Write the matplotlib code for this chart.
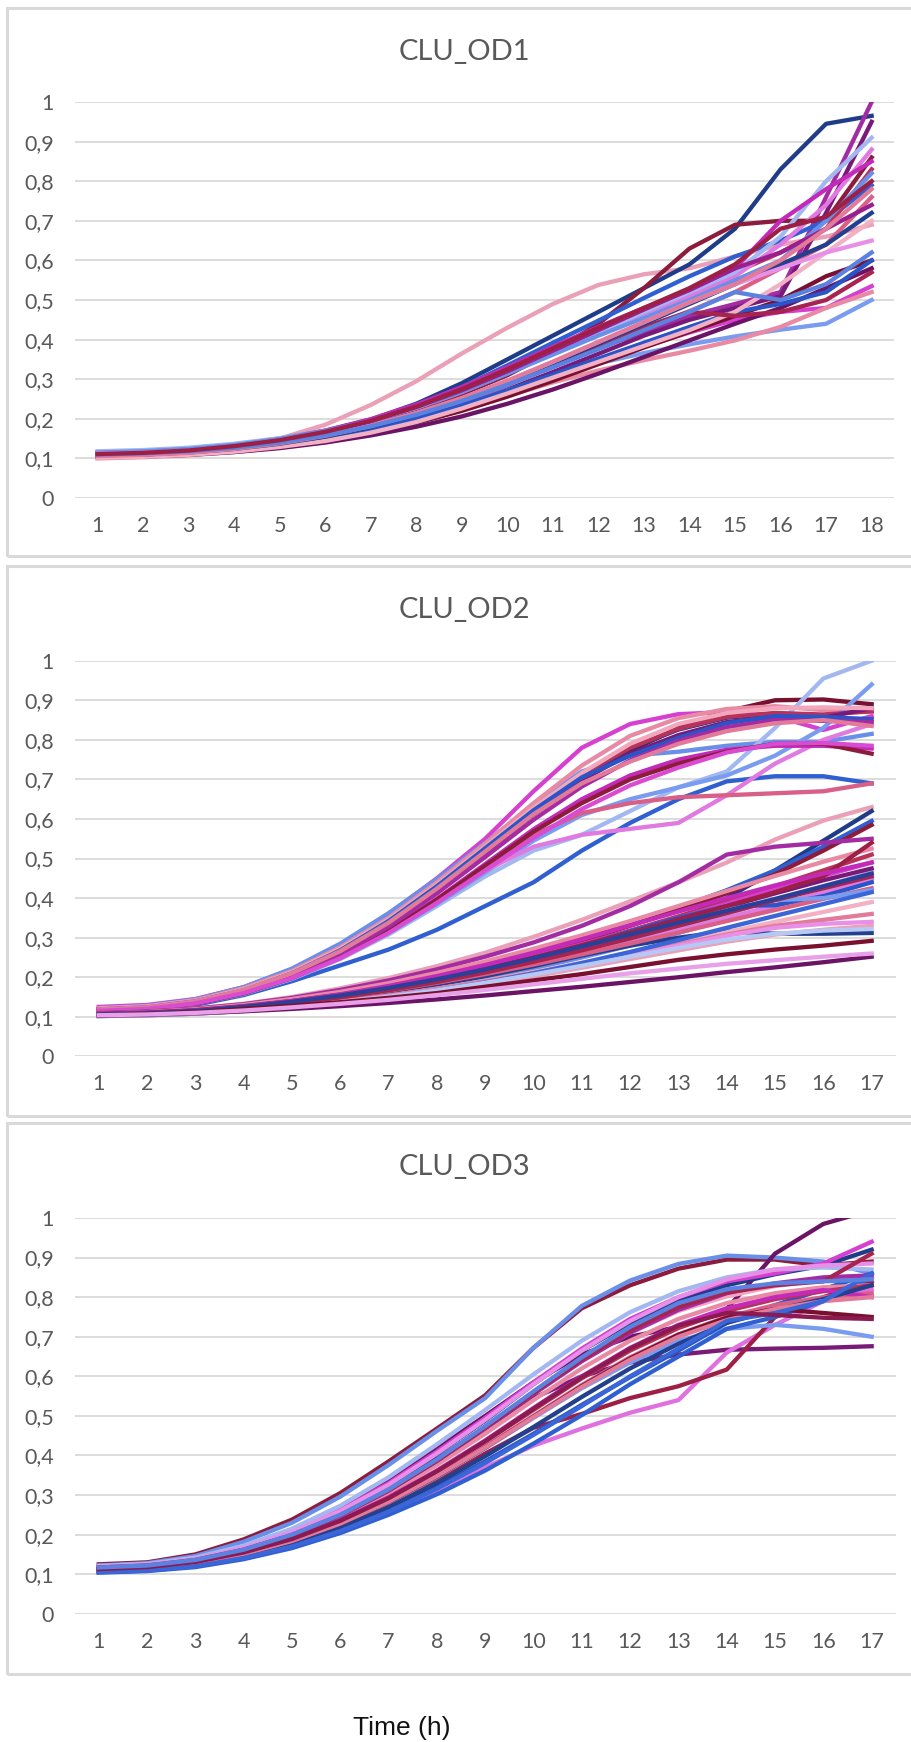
import matplotlib
matplotlib.use("Agg")
import matplotlib.pyplot as plt
from matplotlib.patches import Rectangle

# time points (h) for each plate
hours_od1 = list(range(1, 19))
hours_od2 = list(range(1, 18))
hours_od3 = list(range(1, 18))

y_ticks = [0, 0.1, 0.2, 0.3, 0.4, 0.5, 0.6, 0.7, 0.8, 0.9, 1]
y_labels = ["0", "0,1", "0,2", "0,3", "0,4", "0,5", "0,6", "0,7", "0,8", "0,9", "1"]

# ---------------- CLU_OD1 ----------------
od1_colors = ["#eaa0b6", "#1f3c88", "#a32ca3", "#7a1a78", "#8c1c3c", "#7a9cf0", "#d63fcf",
              "#e98aa5", "#2f5fd0", "#b8325a", "#e07ae0", "#a3b8f0", "#7a1030", "#6b1466",
              "#d95f86", "#2a55c8", "#c42ab8", "#6a8fe8", "#f2b0c4", "#a82450", "#23408f",
              "#e890e8", "#9a1f8e", "#e27a9a", "#5b82e0", "#9e1f45"]
od1_curves = [
    [0.110, 0.112, 0.118, 0.130, 0.150, 0.185, 0.235, 0.295, 0.365, 0.430, 0.490, 0.538, 0.565, 0.580, 0.610, 0.640, 0.660, 0.690],
    [0.115, 0.118, 0.124, 0.135, 0.150, 0.170, 0.198, 0.238, 0.290, 0.350, 0.410, 0.470, 0.530, 0.590, 0.680, 0.830, 0.945, 0.965],
    [0.108, 0.110, 0.115, 0.124, 0.138, 0.156, 0.180, 0.210, 0.246, 0.288, 0.332, 0.378, 0.420, 0.460, 0.490, 0.520, 0.760, 1.000],
    [0.105, 0.107, 0.112, 0.121, 0.134, 0.150, 0.172, 0.200, 0.234, 0.274, 0.318, 0.364, 0.410, 0.450, 0.480, 0.510, 0.720, 0.950],
    [0.112, 0.115, 0.120, 0.130, 0.145, 0.165, 0.190, 0.222, 0.262, 0.310, 0.370, 0.440, 0.530, 0.630, 0.690, 0.700, 0.700, 0.860],
    [0.110, 0.112, 0.117, 0.125, 0.137, 0.152, 0.172, 0.200, 0.235, 0.272, 0.308, 0.340, 0.366, 0.388, 0.408, 0.425, 0.440, 0.500],
    [0.105, 0.107, 0.112, 0.120, 0.131, 0.146, 0.166, 0.192, 0.224, 0.262, 0.302, 0.342, 0.382, 0.418, 0.450, 0.470, 0.480, 0.535],
    [0.100, 0.103, 0.108, 0.116, 0.127, 0.142, 0.163, 0.190, 0.222, 0.257, 0.292, 0.322, 0.348, 0.372, 0.398, 0.432, 0.480, 0.520],
    [0.112, 0.115, 0.121, 0.131, 0.146, 0.166, 0.194, 0.232, 0.280, 0.335, 0.392, 0.448, 0.505, 0.560, 0.610, 0.650, 0.700, 0.790],
    [0.108, 0.111, 0.117, 0.128, 0.143, 0.163, 0.190, 0.224, 0.266, 0.314, 0.366, 0.420, 0.472, 0.522, 0.570, 0.620, 0.680, 0.830],
    [0.110, 0.113, 0.119, 0.130, 0.146, 0.168, 0.196, 0.232, 0.274, 0.322, 0.372, 0.420, 0.466, 0.510, 0.560, 0.640, 0.740, 0.880],
    [0.118, 0.121, 0.127, 0.137, 0.151, 0.170, 0.195, 0.228, 0.268, 0.315, 0.366, 0.418, 0.470, 0.520, 0.570, 0.660, 0.800, 0.910],
    [0.105, 0.107, 0.111, 0.119, 0.130, 0.145, 0.165, 0.190, 0.220, 0.256, 0.296, 0.338, 0.380, 0.420, 0.460, 0.500, 0.560, 0.600],
    [0.104, 0.105, 0.109, 0.116, 0.126, 0.140, 0.158, 0.180, 0.206, 0.238, 0.274, 0.314, 0.356, 0.398, 0.440, 0.480, 0.530, 0.580],
    [0.106, 0.108, 0.113, 0.122, 0.135, 0.152, 0.175, 0.205, 0.242, 0.285, 0.332, 0.380, 0.428, 0.472, 0.520, 0.580, 0.640, 0.760],
    [0.110, 0.112, 0.116, 0.124, 0.136, 0.152, 0.173, 0.200, 0.234, 0.272, 0.312, 0.352, 0.392, 0.432, 0.470, 0.490, 0.520, 0.600],
    [0.112, 0.115, 0.121, 0.132, 0.148, 0.170, 0.199, 0.236, 0.280, 0.330, 0.382, 0.432, 0.480, 0.525, 0.580, 0.700, 0.780, 0.850],
    [0.115, 0.118, 0.124, 0.134, 0.149, 0.169, 0.195, 0.228, 0.268, 0.314, 0.362, 0.410, 0.455, 0.500, 0.550, 0.600, 0.700, 0.820],
    [0.102, 0.104, 0.109, 0.117, 0.129, 0.144, 0.165, 0.192, 0.226, 0.264, 0.304, 0.344, 0.384, 0.424, 0.470, 0.540, 0.620, 0.700],
    [0.110, 0.112, 0.117, 0.126, 0.140, 0.158, 0.182, 0.212, 0.248, 0.290, 0.336, 0.384, 0.432, 0.470, 0.460, 0.470, 0.500, 0.570],
    [0.108, 0.110, 0.115, 0.124, 0.137, 0.155, 0.179, 0.210, 0.248, 0.292, 0.340, 0.390, 0.440, 0.490, 0.540, 0.590, 0.640, 0.720],
    [0.112, 0.114, 0.119, 0.128, 0.141, 0.159, 0.183, 0.214, 0.252, 0.296, 0.344, 0.394, 0.444, 0.494, 0.540, 0.580, 0.620, 0.650],
    [0.108, 0.110, 0.116, 0.127, 0.143, 0.165, 0.194, 0.230, 0.272, 0.320, 0.372, 0.424, 0.476, 0.526, 0.580, 0.620, 0.680, 0.740],
    [0.106, 0.109, 0.114, 0.124, 0.138, 0.157, 0.182, 0.214, 0.252, 0.296, 0.344, 0.394, 0.444, 0.494, 0.540, 0.600, 0.680, 0.780],
    [0.110, 0.113, 0.118, 0.127, 0.140, 0.158, 0.181, 0.210, 0.245, 0.286, 0.330, 0.376, 0.424, 0.470, 0.520, 0.500, 0.540, 0.620],
    [0.111, 0.114, 0.120, 0.131, 0.146, 0.167, 0.195, 0.231, 0.275, 0.325, 0.378, 0.430, 0.480, 0.530, 0.590, 0.680, 0.710, 0.800],
]

# ---------------- CLU_OD2 ----------------
od2_colors = ["#d63fcf", "#6a8fe8", "#7a1030", "#1f3c88", "#e98aa5", "#2f5fd0", "#a3b8f0",
              "#7a9cf0", "#e07ae0", "#d95f86", "#c42ab8", "#8c1c3c", "#b8325a", "#7a1a78",
              "#f2a7bd", "#2a55c8", "#a32ca3", "#e27a9a", "#d94bd0",
              "#eaa0b6", "#1f3c88", "#2f5fd0", "#8c1c3c", "#a32ca3", "#b8325a", "#e98aa5",
              "#6a8fe8", "#a3b8f0", "#d63fcf", "#e07ae0", "#23408f", "#2a55c8", "#d95f86",
              "#7a1a78", "#f2b0c4", "#e27a9a", "#7a9cf0", "#9e1f45", "#e890e8", "#c42ab8",
              "#3a66d8", "#a82450", "#eaa0b6", "#b8c8f4", "#2b3f96",
              "#7a1030", "#6b1466", "#e8a0e8"]
od2_curves = [
    [0.125, 0.130, 0.145, 0.175, 0.220, 0.282, 0.360, 0.450, 0.550, 0.670, 0.780, 0.840, 0.865, 0.870, 0.860, 0.825, 0.860],
    [0.122, 0.128, 0.144, 0.175, 0.222, 0.285, 0.362, 0.448, 0.540, 0.635, 0.720, 0.760, 0.770, 0.785, 0.795, 0.795, 0.815],
    [0.118, 0.123, 0.138, 0.166, 0.208, 0.265, 0.336, 0.422, 0.515, 0.612, 0.700, 0.772, 0.830, 0.872, 0.900, 0.902, 0.890],
    [0.115, 0.120, 0.134, 0.162, 0.204, 0.262, 0.334, 0.420, 0.515, 0.615, 0.705, 0.778, 0.826, 0.856, 0.866, 0.862, 0.882],
    [0.120, 0.126, 0.142, 0.172, 0.216, 0.276, 0.350, 0.440, 0.538, 0.640, 0.735, 0.810, 0.855, 0.878, 0.885, 0.875, 0.870],
    [0.112, 0.117, 0.130, 0.155, 0.190, 0.230, 0.270, 0.320, 0.380, 0.440, 0.520, 0.590, 0.650, 0.695, 0.708, 0.708, 0.690],
    [0.115, 0.120, 0.133, 0.158, 0.196, 0.246, 0.308, 0.380, 0.455, 0.520, 0.560, 0.620, 0.680, 0.720, 0.830, 0.955, 1.000],
    [0.118, 0.123, 0.136, 0.162, 0.200, 0.250, 0.312, 0.385, 0.465, 0.545, 0.610, 0.650, 0.680, 0.710, 0.760, 0.830, 0.940],
    [0.122, 0.127, 0.141, 0.168, 0.206, 0.256, 0.318, 0.392, 0.470, 0.530, 0.560, 0.575, 0.590, 0.660, 0.740, 0.800, 0.840],
    [0.118, 0.123, 0.137, 0.164, 0.204, 0.256, 0.320, 0.398, 0.480, 0.560, 0.615, 0.640, 0.655, 0.660, 0.665, 0.670, 0.690],
    [0.116, 0.121, 0.135, 0.161, 0.200, 0.252, 0.318, 0.398, 0.486, 0.574, 0.650, 0.710, 0.750, 0.775, 0.785, 0.785, 0.778],
    [0.114, 0.119, 0.133, 0.159, 0.198, 0.250, 0.316, 0.396, 0.482, 0.568, 0.640, 0.700, 0.740, 0.770, 0.790, 0.790, 0.765],
    [0.120, 0.125, 0.140, 0.169, 0.212, 0.270, 0.344, 0.432, 0.528, 0.625, 0.712, 0.780, 0.828, 0.858, 0.868, 0.864, 0.872],
    [0.117, 0.122, 0.137, 0.165, 0.207, 0.264, 0.336, 0.422, 0.516, 0.612, 0.698, 0.765, 0.812, 0.845, 0.858, 0.856, 0.880],
    [0.121, 0.126, 0.141, 0.170, 0.213, 0.272, 0.346, 0.434, 0.530, 0.628, 0.716, 0.790, 0.840, 0.868, 0.880, 0.882, 0.880],
    [0.119, 0.124, 0.139, 0.167, 0.210, 0.268, 0.342, 0.430, 0.526, 0.622, 0.705, 0.760, 0.805, 0.842, 0.860, 0.858, 0.852],
    [0.116, 0.121, 0.135, 0.162, 0.203, 0.258, 0.328, 0.412, 0.504, 0.598, 0.682, 0.748, 0.798, 0.832, 0.850, 0.848, 0.845],
    [0.119, 0.124, 0.139, 0.168, 0.210, 0.266, 0.338, 0.424, 0.518, 0.612, 0.690, 0.745, 0.790, 0.822, 0.842, 0.850, 0.835],
    [0.115, 0.120, 0.134, 0.160, 0.198, 0.248, 0.312, 0.388, 0.470, 0.552, 0.625, 0.685, 0.730, 0.768, 0.790, 0.792, 0.785],
    # slower growing wells
    [0.110, 0.114, 0.121, 0.133, 0.150, 0.172, 0.198, 0.228, 0.262, 0.302, 0.345, 0.392, 0.440, 0.490, 0.548, 0.596, 0.630],
    [0.105, 0.108, 0.113, 0.122, 0.134, 0.148, 0.165, 0.186, 0.210, 0.238, 0.270, 0.305, 0.345, 0.400, 0.470, 0.545, 0.620],
    [0.108, 0.111, 0.117, 0.127, 0.140, 0.156, 0.176, 0.200, 0.228, 0.260, 0.296, 0.334, 0.375, 0.420, 0.470, 0.530, 0.595],
    [0.107, 0.110, 0.116, 0.126, 0.139, 0.155, 0.175, 0.199, 0.226, 0.257, 0.292, 0.330, 0.370, 0.412, 0.460, 0.520, 0.585],
    [0.110, 0.114, 0.121, 0.132, 0.148, 0.168, 0.192, 0.220, 0.252, 0.288, 0.330, 0.380, 0.440, 0.510, 0.530, 0.540, 0.550],
    [0.106, 0.109, 0.115, 0.125, 0.138, 0.154, 0.173, 0.196, 0.222, 0.252, 0.284, 0.318, 0.354, 0.392, 0.430, 0.470, 0.510],
    [0.108, 0.112, 0.119, 0.130, 0.145, 0.163, 0.185, 0.211, 0.240, 0.272, 0.306, 0.342, 0.380, 0.418, 0.456, 0.492, 0.525],
    [0.102, 0.104, 0.108, 0.115, 0.125, 0.138, 0.154, 0.173, 0.196, 0.222, 0.250, 0.280, 0.312, 0.346, 0.380, 0.415, 0.450],
    [0.104, 0.106, 0.111, 0.119, 0.130, 0.144, 0.161, 0.182, 0.206, 0.233, 0.262, 0.293, 0.326, 0.360, 0.395, 0.430, 0.465],
    [0.107, 0.110, 0.116, 0.126, 0.139, 0.155, 0.174, 0.197, 0.223, 0.252, 0.283, 0.316, 0.350, 0.386, 0.422, 0.456, 0.490],
    [0.105, 0.108, 0.113, 0.121, 0.132, 0.146, 0.163, 0.183, 0.206, 0.231, 0.258, 0.287, 0.318, 0.350, 0.382, 0.414, 0.445],
    [0.103, 0.105, 0.110, 0.118, 0.129, 0.143, 0.160, 0.180, 0.203, 0.228, 0.255, 0.280, 0.300, 0.316, 0.310, 0.310, 0.312],
    [0.104, 0.107, 0.112, 0.121, 0.133, 0.148, 0.167, 0.190, 0.216, 0.246, 0.280, 0.316, 0.350, 0.380, 0.382, 0.405, 0.440],
    [0.106, 0.109, 0.114, 0.123, 0.135, 0.149, 0.166, 0.186, 0.208, 0.232, 0.258, 0.285, 0.313, 0.342, 0.370, 0.398, 0.425],
    [0.105, 0.108, 0.114, 0.124, 0.137, 0.153, 0.172, 0.194, 0.219, 0.247, 0.278, 0.310, 0.344, 0.378, 0.412, 0.445, 0.475],
    [0.103, 0.105, 0.109, 0.116, 0.126, 0.138, 0.153, 0.171, 0.191, 0.213, 0.237, 0.262, 0.288, 0.314, 0.340, 0.365, 0.390],
    [0.104, 0.106, 0.110, 0.117, 0.127, 0.139, 0.154, 0.171, 0.190, 0.211, 0.234, 0.258, 0.283, 0.308, 0.330, 0.345, 0.360],
    [0.106, 0.109, 0.114, 0.123, 0.135, 0.150, 0.168, 0.190, 0.215, 0.243, 0.274, 0.306, 0.338, 0.370, 0.395, 0.400, 0.420],
    [0.108, 0.111, 0.117, 0.127, 0.140, 0.156, 0.175, 0.197, 0.222, 0.250, 0.281, 0.313, 0.346, 0.380, 0.415, 0.455, 0.540],
    [0.103, 0.105, 0.109, 0.116, 0.125, 0.137, 0.151, 0.168, 0.187, 0.208, 0.231, 0.255, 0.280, 0.305, 0.325, 0.335, 0.340],
    [0.107, 0.110, 0.116, 0.126, 0.140, 0.157, 0.178, 0.203, 0.231, 0.262, 0.296, 0.331, 0.366, 0.400, 0.432, 0.462, 0.490],
    [0.102, 0.104, 0.108, 0.115, 0.124, 0.136, 0.150, 0.167, 0.187, 0.210, 0.236, 0.264, 0.294, 0.325, 0.355, 0.385, 0.415],
    [0.105, 0.108, 0.113, 0.122, 0.134, 0.149, 0.167, 0.188, 0.212, 0.239, 0.268, 0.298, 0.330, 0.362, 0.395, 0.425, 0.455],
    [0.102, 0.104, 0.108, 0.114, 0.123, 0.134, 0.148, 0.164, 0.182, 0.202, 0.224, 0.246, 0.268, 0.290, 0.308, 0.320, 0.330],
    [0.103, 0.105, 0.109, 0.116, 0.125, 0.137, 0.151, 0.167, 0.186, 0.207, 0.229, 0.252, 0.274, 0.295, 0.310, 0.318, 0.322],
    [0.106, 0.109, 0.115, 0.125, 0.138, 0.154, 0.173, 0.195, 0.220, 0.248, 0.278, 0.308, 0.338, 0.368, 0.398, 0.430, 0.462],
    [0.104, 0.107, 0.112, 0.120, 0.128, 0.137, 0.148, 0.160, 0.176, 0.192, 0.208, 0.226, 0.244, 0.258, 0.270, 0.280, 0.292],
    [0.103, 0.105, 0.109, 0.114, 0.120, 0.127, 0.135, 0.144, 0.154, 0.165, 0.176, 0.188, 0.200, 0.213, 0.225, 0.238, 0.252],
    [0.104, 0.106, 0.110, 0.116, 0.124, 0.133, 0.143, 0.155, 0.168, 0.182, 0.196, 0.210, 0.222, 0.234, 0.243, 0.252, 0.260],
]

# ---------------- CLU_OD3 ----------------
od3_colors = ["#8c1c3c", "#6a8fe8", "#6b1466", "#7a1a78", "#e070e0", "#9e1f45", "#7a9cf0",
              "#1f3c88", "#d63fcf", "#2f5fd0", "#2a55c8", "#e98aa5", "#f2a7bd", "#b8325a",
              "#d95f86", "#a32ca3", "#a3b8f0", "#e890e8", "#c42ab8", "#7a1030", "#23408f",
              "#e27a9a", "#a82450", "#3a66d8", "#8a1a50", "#5b82e0"]
od3_curves = [
    [0.125, 0.130, 0.150, 0.188, 0.238, 0.305, 0.385, 0.468, 0.552, 0.672, 0.772, 0.830, 0.872, 0.895, 0.895, 0.880, 0.890],
    [0.122, 0.128, 0.146, 0.182, 0.230, 0.296, 0.376, 0.462, 0.545, 0.672, 0.778, 0.842, 0.884, 0.905, 0.900, 0.890, 0.860],
    [0.118, 0.124, 0.140, 0.170, 0.212, 0.268, 0.338, 0.418, 0.500, 0.585, 0.655, 0.700, 0.725, 0.770, 0.910, 0.985, 1.020],
    [0.115, 0.120, 0.134, 0.160, 0.198, 0.250, 0.316, 0.392, 0.470, 0.545, 0.600, 0.635, 0.655, 0.667, 0.670, 0.672, 0.676],
    [0.110, 0.114, 0.125, 0.145, 0.172, 0.208, 0.255, 0.310, 0.370, 0.425, 0.468, 0.508, 0.540, 0.660, 0.730, 0.790, 0.820],
    [0.112, 0.116, 0.128, 0.150, 0.180, 0.220, 0.272, 0.335, 0.405, 0.470, 0.505, 0.545, 0.575, 0.617, 0.750, 0.800, 0.840],
    [0.112, 0.116, 0.128, 0.150, 0.182, 0.225, 0.280, 0.345, 0.418, 0.495, 0.570, 0.635, 0.690, 0.720, 0.730, 0.720, 0.700],
    [0.118, 0.123, 0.138, 0.166, 0.206, 0.258, 0.324, 0.404, 0.488, 0.580, 0.665, 0.735, 0.790, 0.830, 0.858, 0.880, 0.920],
    [0.120, 0.125, 0.140, 0.168, 0.208, 0.262, 0.330, 0.410, 0.495, 0.585, 0.670, 0.745, 0.800, 0.840, 0.860, 0.885, 0.940],
    [0.104, 0.108, 0.118, 0.138, 0.166, 0.204, 0.250, 0.302, 0.362, 0.430, 0.502, 0.580, 0.650, 0.720, 0.750, 0.790, 0.850],
    [0.106, 0.110, 0.121, 0.142, 0.172, 0.212, 0.262, 0.320, 0.385, 0.455, 0.528, 0.598, 0.665, 0.735, 0.780, 0.820, 0.860],
    [0.116, 0.121, 0.135, 0.160, 0.196, 0.244, 0.304, 0.376, 0.455, 0.540, 0.620, 0.690, 0.745, 0.785, 0.810, 0.825, 0.830],
    [0.118, 0.123, 0.137, 0.163, 0.200, 0.250, 0.313, 0.388, 0.470, 0.558, 0.640, 0.710, 0.765, 0.802, 0.828, 0.845, 0.850],
    [0.114, 0.119, 0.132, 0.156, 0.190, 0.236, 0.293, 0.360, 0.435, 0.515, 0.595, 0.665, 0.722, 0.765, 0.795, 0.815, 0.830],
    [0.112, 0.117, 0.129, 0.152, 0.185, 0.229, 0.284, 0.350, 0.423, 0.500, 0.578, 0.648, 0.706, 0.750, 0.780, 0.800, 0.810],
    [0.116, 0.121, 0.135, 0.161, 0.198, 0.248, 0.311, 0.386, 0.468, 0.555, 0.638, 0.710, 0.768, 0.810, 0.835, 0.850, 0.855],
    [0.121, 0.126, 0.142, 0.172, 0.215, 0.273, 0.345, 0.428, 0.515, 0.605, 0.690, 0.762, 0.815, 0.850, 0.870, 0.875, 0.870],
    [0.119, 0.124, 0.139, 0.167, 0.207, 0.260, 0.326, 0.405, 0.490, 0.580, 0.665, 0.740, 0.800, 0.845, 0.870, 0.880, 0.885],
    [0.113, 0.118, 0.131, 0.155, 0.190, 0.236, 0.294, 0.362, 0.438, 0.520, 0.600, 0.672, 0.730, 0.772, 0.800, 0.818, 0.800],
    [0.110, 0.115, 0.127, 0.150, 0.183, 0.227, 0.282, 0.347, 0.420, 0.498, 0.575, 0.645, 0.705, 0.748, 0.770, 0.760, 0.750],
    [0.108, 0.112, 0.123, 0.145, 0.176, 0.217, 0.269, 0.330, 0.398, 0.472, 0.548, 0.620, 0.682, 0.735, 0.768, 0.795, 0.830],
    [0.111, 0.116, 0.128, 0.151, 0.184, 0.228, 0.283, 0.348, 0.420, 0.497, 0.573, 0.642, 0.700, 0.742, 0.770, 0.790, 0.800],
    [0.117, 0.122, 0.136, 0.162, 0.199, 0.249, 0.312, 0.387, 0.470, 0.558, 0.642, 0.716, 0.775, 0.812, 0.830, 0.840, 0.910],
    [0.105, 0.109, 0.120, 0.141, 0.170, 0.209, 0.258, 0.316, 0.381, 0.452, 0.525, 0.600, 0.670, 0.740, 0.760, 0.790, 0.860],
    [0.113, 0.118, 0.131, 0.155, 0.189, 0.235, 0.292, 0.360, 0.436, 0.518, 0.598, 0.670, 0.728, 0.760, 0.755, 0.748, 0.745],
    [0.117, 0.122, 0.136, 0.162, 0.200, 0.250, 0.314, 0.390, 0.474, 0.562, 0.648, 0.725, 0.785, 0.820, 0.835, 0.840, 0.845],
]

W, H = 911, 1742
fig = plt.figure(figsize=(W / 100, H / 100), dpi=100)
fig.patch.set_facecolor("white")

# title, x values, curves, colours, panel frame (top, bottom px), plot area (left, top, right, bottom px)
panels = [
    ("CLU_OD1", hours_od1, od1_curves, od1_colors, (8, 556), (74.8, 102, 894.4, 498)),
    ("CLU_OD2", hours_od2, od2_curves, od2_colors, (566, 1116), (74.6, 660.7, 895.8, 1056.4)),
    ("CLU_OD3", hours_od3, od3_curves, od3_colors, (1123, 1674), (74.6, 1218, 895.8, 1613.8)),
]

for title, hours, curves, colors, (ptop, pbot), (l, t, r, b) in panels:
    fig.patches.append(Rectangle((7 / W, 1 - pbot / H), 940 / W, (pbot - ptop) / H,
                                 transform=fig.transFigure, fill=False,
                                 edgecolor="#d9d9d9", lw=2.2))
    ax = fig.add_axes([l / W, 1 - b / H, (r - l) / W, (b - t) / H])
    for vals, c in zip(curves, colors):
        ax.plot(hours, vals, color=c, lw=3.1, solid_joinstyle="round")
    ax.set_xlim(0.5, len(hours) + 0.5)
    ax.set_ylim(0, 1)
    ax.set_xticks(hours)
    ax.set_xticklabels([str(h) for h in hours])
    ax.set_yticks(y_ticks)
    ax.set_yticklabels(y_labels)
    ax.grid(axis="y", color="#d9d9d9", lw=1.3)
    ax.set_axisbelow(True)
    for s in ax.spines.values():
        s.set_visible(False)
    ax.tick_params(axis="both", length=0, labelsize=15.5, labelcolor="#595959")
    ax.tick_params(axis="y", pad=15)
    ax.tick_params(axis="x", pad=13)
    for lab in ax.get_xticklabels() + ax.get_yticklabels():
        lab.set_family("Lato")
    fig.text(464 / W, 1 - (ptop + 44) / H, title, ha="center", va="center",
             fontsize=21, color="#595959", family="Lato")

fig.text(402 / W, 1 - 1735 / H, "Time (h)", ha="center", va="baseline",
         fontsize=19, color="#111111", family="Liberation Sans")

fig.savefig("out.png", dpi=100, facecolor="white")
